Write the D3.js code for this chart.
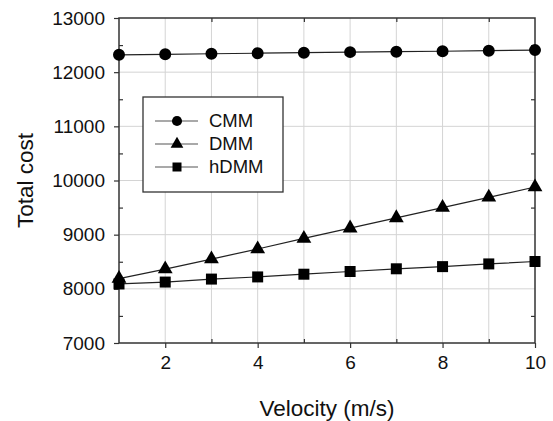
<!DOCTYPE html>
<html>
<head>
<meta charset="utf-8">
<script src="https://cdn.jsdelivr.net/npm/d3@7"></script>
<style>
  body { margin: 0; background: #fff; }
  svg { display: block; font-family: "Liberation Sans", Arial, sans-serif; }
</style>
</head>
<body>
<div id="chart"></div>
<script>
const velocity = [1, 2, 3, 4, 5, 6, 7, 8, 9, 10];
const cmm  = [12320, 12330, 12340, 12350, 12360, 12370, 12378, 12386, 12396, 12407];
const dmm  = [8190, 8365, 8550, 8735, 8930, 9120, 9310, 9500, 9690, 9880];
const hdmm = [8090, 8125, 8180, 8220, 8270, 8320, 8370, 8410, 8460, 8505];
const xTicks = [2, 4, 6, 8, 10];
const yTicks = [7000, 8000, 9000, 10000, 11000, 12000, 13000];
const seriesNames = ['CMM', 'DMM', 'hDMM'];

const W = 553, H = 421;
const margin = { top: 18, right: 18, bottom: 78, left: 119 };
const iw = W - margin.left - margin.right;
const ih = H - margin.top - margin.bottom;

const svg = d3.select('#chart').append('svg')
  .attr('width', W).attr('height', H);
const g = svg.append('g').attr('transform', `translate(${margin.left},${margin.top})`);

const x = d3.scaleLinear().domain([1, 10]).range([0, iw]);
const y = d3.scaleLinear().domain([7000, 13000]).range([ih, 0]);

// grid
g.append('g').selectAll('line').data(d3.range(2, 10)).join('line')
  .attr('x1', d => x(d)).attr('x2', d => x(d)).attr('y1', 0).attr('y2', ih)
  .attr('stroke', '#d4d4d4').attr('stroke-width', 1);
g.append('g').selectAll('line').data(d3.range(8000, 13000, 1000)).join('line')
  .attr('x1', 0).attr('x2', iw).attr('y1', d => y(d)).attr('y2', d => y(d))
  .attr('stroke', '#d4d4d4').attr('stroke-width', 1);

const axisColor = '#333';
const fontSize = 19;

// bottom axis: major outward, minor inward
g.append('g').attr('transform', `translate(0,${ih})`)
  .call(d3.axisBottom(x).tickValues(xTicks).tickSize(5).tickPadding(8).tickSizeOuter(0));
g.append('g').attr('transform', `translate(0,${ih})`)
  .call(d3.axisBottom(x).tickValues([3, 5, 7, 9]).tickSize(-4).tickFormat('').tickSizeOuter(0));

// left axis
g.append('g')
  .call(d3.axisLeft(y).tickValues(yTicks).tickFormat(d3.format('d')).tickSize(5).tickPadding(9).tickSizeOuter(0));
g.append('g')
  .call(d3.axisLeft(y).tickValues(d3.range(7500, 13000, 1000)).tickSize(-4).tickFormat('').tickSizeOuter(0));

// top and right minor ticks inward
g.append('g')
  .call(d3.axisTop(x).tickValues([3, 5, 7, 9]).tickSize(-4).tickFormat('').tickSizeOuter(0));
g.append('g').attr('transform', `translate(${iw},0)`)
  .call(d3.axisRight(y).tickValues(d3.range(7500, 13000, 1000)).tickSize(-4).tickFormat('').tickSizeOuter(0));

g.selectAll('.domain').remove();
g.selectAll('.tick line').attr('stroke', axisColor).attr('stroke-width', 1.2);
g.selectAll('.tick text').attr('fill', '#111').style('font-size', fontSize + 'px');

// frame
g.append('rect').attr('width', iw).attr('height', ih)
  .attr('fill', 'none').attr('stroke', axisColor).attr('stroke-width', 1.5);

// series
const line = d3.line().x((d, i) => x(velocity[i])).y(d => y(d));
const seriesData = [cmm, dmm, hdmm];
const shapes = [d3.symbolCircle, d3.symbolTriangle, d3.symbolSquare];
const sizes = [113, 95, 121];

seriesData.forEach((vals, k) => {
  g.append('path').datum(vals).attr('d', line)
    .attr('fill', 'none').attr('stroke', '#222').attr('stroke-width', 1.2);
  g.append('g').selectAll('path').data(vals).join('path')
    .attr('transform', (d, i) => `translate(${x(velocity[i])},${y(d)})`)
    .attr('d', d3.symbol().type(shapes[k]).size(sizes[k]))
    .attr('fill', '#000');
});

// legend
const lg = svg.append('g').attr('transform', 'translate(143,97)');
lg.append('rect').attr('width', 140).attr('height', 95)
  .attr('fill', '#fff').attr('stroke', axisColor).attr('stroke-width', 1.3);
const legendSizes = [80, 70, 81];
seriesNames.forEach((name, k) => {
  const row = lg.append('g').attr('transform', `translate(0,${24 + k * 23})`);
  row.append('line').attr('x1', 12).attr('x2', 55)
    .attr('stroke', '#555').attr('stroke-width', 1.2);
  row.append('path').attr('transform', 'translate(34,0)')
    .attr('d', d3.symbol().type(shapes[k]).size(legendSizes[k])).attr('fill', '#000');
  row.append('text').attr('x', 66).attr('y', 0).attr('dy', '0.35em')
    .style('font-size', '18.5px').attr('fill', '#111').text(name);
});

// axis titles
svg.append('text').attr('x', margin.left + iw / 2).attr('y', 416)
  .attr('text-anchor', 'middle').style('font-size', '22.5px').attr('fill', '#111')
  .text('Velocity (m/s)');
svg.append('text')
  .attr('transform', `translate(33,${margin.top + ih / 2}) rotate(-90)`)
  .attr('text-anchor', 'middle').style('font-size', '22.5px').attr('fill', '#111')
  .text('Total cost');
</script>
</body>
</html>
